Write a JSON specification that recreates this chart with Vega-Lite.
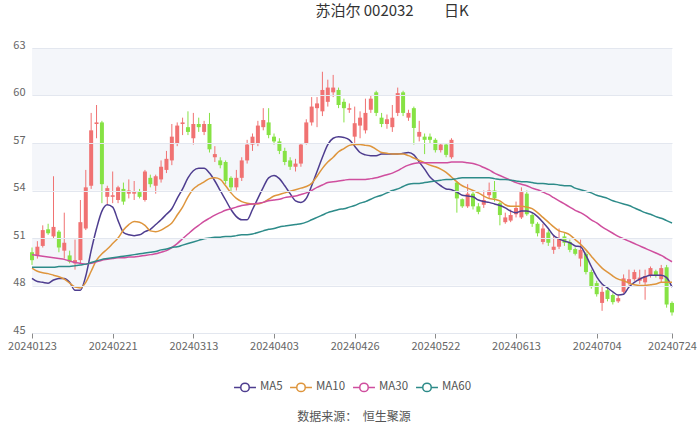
{
  "$schema": "https://vega.github.io/schema/vega-lite/v6.json",
  "autosize": "none",
  "width": 640,
  "height": 285,
  "padding": {"left": 32, "top": 48, "right": 28, "bottom": 93},
  "background": "white",
  "config": {"view": {"stroke": null}, "font": "Noto Sans CJK SC"},
  "title": {"text": "苏泊尔 002032\u00a0\u00a0\u00a0\u00a0\u00a0\u00a0\u00a0\u00a0\u00a0日K", "anchor": "middle", "dx": 40, "fontSize": 15, "fontWeight": "normal", "color": "#333333", "font": "Noto Sans CJK SC", "offset": 20},
  "data": {"values": [
{"date":"20240123","open":50.1,"close":49.6,"high":50.4,"low":49.3,"MA5":48.45,"MA10":49.1,"MA30":49.95,"MA60":49.15},
{"date":"20240124","open":49.9,"close":50.45,"high":50.8,"low":49.7,"MA5":48.25,"MA10":48.9,"MA30":49.9,"MA60":49.15},
{"date":"20240125","open":50.5,"close":51.5,"high":51.8,"low":50.4,"MA5":48.2,"MA10":48.8,"MA30":49.85,"MA60":49.15},
{"date":"20240126","open":51.55,"close":51.3,"high":51.9,"low":51.2,"MA5":48.15,"MA10":48.75,"MA30":49.8,"MA60":49.15},
{"date":"20240129","open":51.1,"close":51.7,"high":54.9,"low":51.0,"MA5":48.35,"MA10":48.65,"MA30":49.75,"MA60":49.15},
{"date":"20240130","open":51.4,"close":50.4,"high":51.5,"low":50.1,"MA5":48.45,"MA10":48.55,"MA30":49.7,"MA60":49.2},
{"date":"20240131","open":50.2,"close":50.7,"high":52.6,"low":49.7,"MA5":48.45,"MA10":48.4,"MA30":49.65,"MA60":49.2},
{"date":"20240201","open":49.9,"close":49.5,"high":50.2,"low":49.4,"MA5":48.2,"MA10":48.15,"MA30":49.55,"MA60":49.2},
{"date":"20240202","open":49.4,"close":49.6,"high":50.9,"low":49.0,"MA5":47.7,"MA10":47.9,"MA30":49.45,"MA60":49.25},
{"date":"20240205","open":49.6,"close":52.0,"high":53.4,"low":49.4,"MA5":47.7,"MA10":47.85,"MA30":49.4,"MA60":49.3},
{"date":"20240206","open":51.6,"close":54.2,"high":55.3,"low":51.5,"MA5":48.6,"MA10":48.2,"MA30":49.35,"MA60":49.35},
{"date":"20240207","open":54.3,"close":57.8,"high":58.9,"low":54.1,"MA5":50.2,"MA10":48.9,"MA30":49.4,"MA60":49.45},
{"date":"20240208","open":58.2,"close":58.3,"high":59.4,"low":57.3,"MA5":51.6,"MA10":49.6,"MA30":49.5,"MA60":49.55},
{"date":"20240219","open":58.3,"close":54.4,"high":58.4,"low":53.2,"MA5":52.7,"MA10":50.0,"MA30":49.6,"MA60":49.65},
{"date":"20240220","open":53.6,"close":54.15,"high":54.3,"low":53.1,"MA5":53.1,"MA10":50.3,"MA30":49.65,"MA60":49.7},
{"date":"20240221","open":53.6,"close":53.7,"high":55.2,"low":53.2,"MA5":52.95,"MA10":50.65,"MA30":49.7,"MA60":49.75},
{"date":"20240222","open":53.4,"close":54.2,"high":54.3,"low":53.2,"MA5":52.1,"MA10":51.0,"MA30":49.75,"MA60":49.8},
{"date":"20240223","open":54.1,"close":53.3,"high":54.5,"low":53.1,"MA5":51.35,"MA10":51.5,"MA30":49.75,"MA60":49.85},
{"date":"20240226","open":53.8,"close":54.0,"high":54.7,"low":53.5,"MA5":51.2,"MA10":51.85,"MA30":49.8,"MA60":49.9},
{"date":"20240227","open":53.8,"close":53.9,"high":54.6,"low":53.4,"MA5":51.15,"MA10":52.05,"MA30":49.8,"MA60":49.95},
{"date":"20240228","open":53.9,"close":53.6,"high":54.1,"low":53.5,"MA5":51.2,"MA10":52.0,"MA30":49.85,"MA60":50.0},
{"date":"20240229","open":53.4,"close":55.2,"high":55.3,"low":53.3,"MA5":51.4,"MA10":51.8,"MA30":49.9,"MA60":50.05},
{"date":"20240301","open":54.8,"close":54.4,"high":55.0,"low":54.2,"MA5":51.55,"MA10":51.45,"MA30":49.95,"MA60":50.1},
{"date":"20240304","open":54.3,"close":54.9,"high":55.0,"low":53.8,"MA5":51.85,"MA10":51.4,"MA30":50.0,"MA60":50.15},
{"date":"20240305","open":54.7,"close":55.5,"high":55.9,"low":54.5,"MA5":52.15,"MA10":51.5,"MA30":50.1,"MA60":50.25},
{"date":"20240306","open":55.3,"close":56.0,"high":56.5,"low":55.1,"MA5":52.5,"MA10":51.7,"MA30":50.2,"MA60":50.3},
{"date":"20240307","open":55.9,"close":57.4,"high":58.2,"low":55.6,"MA5":52.85,"MA10":51.95,"MA30":50.4,"MA60":50.4},
{"date":"20240308","open":57.0,"close":58.1,"high":58.3,"low":56.8,"MA5":53.5,"MA10":52.45,"MA30":50.65,"MA60":50.45},
{"date":"20240311","open":58.2,"close":58.3,"high":58.6,"low":57.5,"MA5":54.1,"MA10":52.95,"MA30":50.95,"MA60":50.55},
{"date":"20240312","open":58.0,"close":57.7,"high":59.0,"low":57.5,"MA5":54.8,"MA10":53.6,"MA30":51.25,"MA60":50.65},
{"date":"20240313","open":57.3,"close":58.2,"high":58.9,"low":56.9,"MA5":55.25,"MA10":54.1,"MA30":51.55,"MA60":50.75},
{"date":"20240314","open":58.2,"close":58.0,"high":58.6,"low":57.7,"MA5":55.4,"MA10":54.35,"MA30":51.8,"MA60":50.85},
{"date":"20240315","open":57.7,"close":58.2,"high":58.4,"low":57.5,"MA5":55.4,"MA10":54.55,"MA30":52.05,"MA60":50.95},
{"date":"20240318","open":58.2,"close":56.6,"high":58.9,"low":56.4,"MA5":55.1,"MA10":54.75,"MA30":52.25,"MA60":51.0},
{"date":"20240319","open":56.1,"close":56.3,"high":56.8,"low":55.8,"MA5":54.6,"MA10":54.8,"MA30":52.45,"MA60":51.05},
{"date":"20240320","open":55.9,"close":55.6,"high":56.1,"low":55.4,"MA5":54.0,"MA10":54.7,"MA30":52.6,"MA60":51.05},
{"date":"20240321","open":55.8,"close":54.6,"high":55.9,"low":54.4,"MA5":53.4,"MA10":54.3,"MA30":52.75,"MA60":51.1},
{"date":"20240322","open":54.8,"close":54.2,"high":54.9,"low":53.9,"MA5":52.8,"MA10":53.85,"MA30":52.85,"MA60":51.1},
{"date":"20240325","open":54.2,"close":54.8,"high":55.3,"low":54.0,"MA5":52.35,"MA10":53.5,"MA30":52.95,"MA60":51.15},
{"date":"20240326","open":54.8,"close":55.9,"high":56.1,"low":54.6,"MA5":52.15,"MA10":53.3,"MA30":53.05,"MA60":51.2},
{"date":"20240327","open":55.9,"close":56.9,"high":57.2,"low":55.7,"MA5":52.15,"MA10":53.2,"MA30":53.1,"MA60":51.2},
{"date":"20240328","open":56.9,"close":57.4,"high":57.6,"low":56.5,"MA5":52.8,"MA10":53.15,"MA30":53.15,"MA60":51.25},
{"date":"20240329","open":57.0,"close":58.1,"high":58.4,"low":56.8,"MA5":53.5,"MA10":53.15,"MA30":53.2,"MA60":51.35},
{"date":"20240401","open":58.0,"close":58.45,"high":59.2,"low":57.8,"MA5":54.2,"MA10":53.25,"MA30":53.25,"MA60":51.45},
{"date":"20240402","open":58.3,"close":57.5,"high":59.2,"low":57.3,"MA5":54.8,"MA10":53.45,"MA30":53.35,"MA60":51.55},
{"date":"20240403","open":57.4,"close":57.1,"high":57.6,"low":56.9,"MA5":54.95,"MA10":53.65,"MA30":53.4,"MA60":51.6},
{"date":"20240408","open":57.1,"close":56.5,"high":57.3,"low":56.3,"MA5":54.75,"MA10":53.75,"MA30":53.45,"MA60":51.7},
{"date":"20240409","open":56.5,"close":55.8,"high":56.7,"low":55.6,"MA5":54.3,"MA10":53.85,"MA30":53.55,"MA60":51.75},
{"date":"20240410","open":55.9,"close":55.5,"high":56.1,"low":55.3,"MA5":53.8,"MA10":53.95,"MA30":53.6,"MA60":51.8},
{"date":"20240411","open":55.5,"close":55.7,"high":56.0,"low":55.2,"MA5":53.35,"MA10":54.05,"MA30":53.65,"MA60":51.85},
{"date":"20240412","open":55.7,"close":56.9,"high":57.0,"low":55.5,"MA5":53.25,"MA10":54.15,"MA30":53.75,"MA60":51.9},
{"date":"20240415","open":57.0,"close":58.3,"high":58.5,"low":56.9,"MA5":53.5,"MA10":54.25,"MA30":53.85,"MA60":52.0},
{"date":"20240416","open":58.3,"close":59.3,"high":59.9,"low":58.1,"MA5":54.3,"MA10":54.45,"MA30":54.0,"MA60":52.15},
{"date":"20240417","open":59.2,"close":59.5,"high":59.9,"low":58.0,"MA5":55.2,"MA10":54.9,"MA30":54.2,"MA60":52.3},
{"date":"20240418","open":59.0,"close":60.35,"high":61.5,"low":58.7,"MA5":56.1,"MA10":55.4,"MA30":54.35,"MA60":52.45},
{"date":"20240419","open":59.6,"close":60.5,"high":61.0,"low":59.3,"MA5":56.9,"MA10":55.8,"MA30":54.5,"MA60":52.6},
{"date":"20240422","open":60.2,"close":60.5,"high":61.3,"low":59.9,"MA5":57.3,"MA10":56.1,"MA30":54.55,"MA60":52.7},
{"date":"20240423","open":60.35,"close":59.4,"high":60.5,"low":59.2,"MA5":57.4,"MA10":56.45,"MA30":54.6,"MA60":52.8},
{"date":"20240424","open":59.6,"close":59.2,"high":59.8,"low":58.3,"MA5":57.35,"MA10":56.65,"MA30":54.65,"MA60":52.85},
{"date":"20240425","open":59.1,"close":59.2,"high":59.5,"low":58.9,"MA5":57.2,"MA10":56.85,"MA30":54.7,"MA60":52.95},
{"date":"20240426","open":57.4,"close":58.25,"high":59.3,"low":57.0,"MA5":56.8,"MA10":56.9,"MA30":54.7,"MA60":53.05},
{"date":"20240429","open":58.1,"close":58.6,"high":59.0,"low":57.3,"MA5":56.4,"MA10":56.9,"MA30":54.7,"MA60":53.2},
{"date":"20240430","open":57.8,"close":58.9,"high":59.8,"low":57.6,"MA5":56.25,"MA10":56.85,"MA30":54.7,"MA60":53.3},
{"date":"20240506","open":59.1,"close":59.8,"high":60.0,"low":58.9,"MA5":56.2,"MA10":56.8,"MA30":54.75,"MA60":53.45},
{"date":"20240507","open":60.2,"close":58.9,"high":60.3,"low":58.7,"MA5":56.2,"MA10":56.6,"MA30":54.8,"MA60":53.6},
{"date":"20240508","open":58.6,"close":58.2,"high":58.9,"low":58.0,"MA5":56.3,"MA10":56.4,"MA30":54.9,"MA60":53.7},
{"date":"20240509","open":58.2,"close":58.5,"high":58.8,"low":57.9,"MA5":56.3,"MA10":56.35,"MA30":55.0,"MA60":53.85},
{"date":"20240510","open":58.0,"close":58.6,"high":59.4,"low":57.7,"MA5":56.3,"MA10":56.3,"MA30":55.1,"MA60":54.0},
{"date":"20240513","open":58.9,"close":60.15,"high":60.5,"low":58.7,"MA5":56.3,"MA10":56.3,"MA30":55.25,"MA60":54.1},
{"date":"20240514","open":60.2,"close":58.9,"high":60.3,"low":58.7,"MA5":56.35,"MA10":56.3,"MA30":55.45,"MA60":54.25},
{"date":"20240515","open":58.6,"close":58.9,"high":59.1,"low":58.4,"MA5":56.4,"MA10":56.2,"MA30":55.6,"MA60":54.4},
{"date":"20240516","open":59.2,"close":57.95,"high":59.3,"low":56.9,"MA5":56.25,"MA10":56.05,"MA30":55.7,"MA60":54.45},
{"date":"20240517","open":57.4,"close":57.7,"high":58.4,"low":57.1,"MA5":55.8,"MA10":55.9,"MA30":55.75,"MA60":54.45},
{"date":"20240520","open":57.4,"close":57.2,"high":57.6,"low":56.3,"MA5":55.35,"MA10":55.75,"MA30":55.75,"MA60":54.5},
{"date":"20240521","open":57.4,"close":57.2,"high":57.6,"low":57.0,"MA5":54.85,"MA10":55.6,"MA30":55.75,"MA60":54.55},
{"date":"20240522","open":57.2,"close":56.55,"high":57.3,"low":56.4,"MA5":54.55,"MA10":55.5,"MA30":55.75,"MA60":54.6},
{"date":"20240523","open":56.55,"close":56.9,"high":57.0,"low":56.4,"MA5":54.3,"MA10":55.35,"MA30":55.75,"MA60":54.65},
{"date":"20240524","open":56.9,"close":56.25,"high":57.0,"low":56.1,"MA5":54.1,"MA10":55.15,"MA30":55.75,"MA60":54.7},
{"date":"20240527","open":56.1,"close":57.2,"high":57.3,"low":56.0,"MA5":54.05,"MA10":54.85,"MA30":55.8,"MA60":54.7},
{"date":"20240528","open":54.5,"close":53.5,"high":54.6,"low":52.6,"MA5":53.9,"MA10":54.55,"MA30":55.8,"MA60":54.75},
{"date":"20240529","open":53.45,"close":53.0,"high":53.5,"low":52.9,"MA5":53.7,"MA10":54.3,"MA30":55.8,"MA60":54.8},
{"date":"20240530","open":53.0,"close":53.8,"high":54.4,"low":52.9,"MA5":53.65,"MA10":54.15,"MA30":55.75,"MA60":54.8},
{"date":"20240531","open":53.8,"close":53.0,"high":54.0,"low":52.8,"MA5":53.6,"MA10":54.0,"MA30":55.7,"MA60":54.8},
{"date":"20240603","open":53.0,"close":52.65,"high":53.2,"low":52.5,"MA5":53.4,"MA10":53.85,"MA30":55.6,"MA60":54.8},
{"date":"20240604","open":53.1,"close":53.4,"high":54.0,"low":52.9,"MA5":53.3,"MA10":53.65,"MA30":55.45,"MA60":54.8},
{"date":"20240605","open":53.7,"close":54.0,"high":54.5,"low":53.5,"MA5":53.25,"MA10":53.5,"MA30":55.3,"MA60":54.8},
{"date":"20240606","open":54.0,"close":53.5,"high":54.6,"low":53.3,"MA5":53.15,"MA10":53.45,"MA30":55.1,"MA60":54.75},
{"date":"20240607","open":53.2,"close":52.45,"high":53.3,"low":51.8,"MA5":53.05,"MA10":53.35,"MA30":54.95,"MA60":54.7},
{"date":"20240611","open":52.0,"close":52.3,"high":52.6,"low":51.9,"MA5":52.9,"MA10":53.1,"MA30":54.8,"MA60":54.7},
{"date":"20240612","open":52.1,"close":52.45,"high":52.8,"low":52.0,"MA5":52.7,"MA10":53.0,"MA30":54.65,"MA60":54.65},
{"date":"20240613","open":52.5,"close":52.9,"high":53.3,"low":52.3,"MA5":52.6,"MA10":53.0,"MA30":54.5,"MA60":54.6},
{"date":"20240614","open":52.3,"close":53.9,"high":54.2,"low":52.2,"MA5":52.7,"MA10":53.0,"MA30":54.4,"MA60":54.55},
{"date":"20240617","open":53.8,"close":52.5,"high":54.0,"low":52.4,"MA5":52.7,"MA10":52.95,"MA30":54.3,"MA60":54.55},
{"date":"20240618","open":52.45,"close":51.9,"high":52.6,"low":51.7,"MA5":52.6,"MA10":52.85,"MA30":54.15,"MA60":54.5},
{"date":"20240619","open":51.9,"close":51.3,"high":52.0,"low":51.1,"MA5":52.35,"MA10":52.6,"MA30":54.05,"MA60":54.45},
{"date":"20240620","open":50.75,"close":51.6,"high":51.9,"low":50.6,"MA5":52.0,"MA10":52.3,"MA30":53.9,"MA60":54.45},
{"date":"20240621","open":51.35,"close":50.7,"high":51.5,"low":50.5,"MA5":51.6,"MA10":52.0,"MA30":53.75,"MA60":54.4},
{"date":"20240624","open":50.25,"close":50.45,"high":51.2,"low":50.0,"MA5":51.15,"MA10":51.7,"MA30":53.55,"MA60":54.4},
{"date":"20240625","open":50.45,"close":51.0,"high":51.6,"low":50.3,"MA5":50.95,"MA10":51.45,"MA30":53.35,"MA60":54.35},
{"date":"20240626","open":51.1,"close":50.7,"high":51.3,"low":50.5,"MA5":50.8,"MA10":51.35,"MA30":53.15,"MA60":54.3},
{"date":"20240627","open":50.75,"close":50.25,"high":50.9,"low":50.1,"MA5":50.7,"MA10":51.2,"MA30":52.95,"MA60":54.3},
{"date":"20240628","open":50.3,"close":50.0,"high":50.4,"low":49.9,"MA5":50.5,"MA10":50.9,"MA30":52.75,"MA60":54.15},
{"date":"20240701","open":49.7,"close":50.25,"high":50.9,"low":49.2,"MA5":50.45,"MA10":50.6,"MA30":52.6,"MA60":54.05},
{"date":"20240702","open":50.0,"close":48.85,"high":50.1,"low":48.7,"MA5":49.9,"MA10":50.25,"MA30":52.4,"MA60":53.95},
{"date":"20240703","open":48.85,"close":47.9,"high":49.0,"low":47.8,"MA5":49.2,"MA10":49.85,"MA30":52.15,"MA60":53.85},
{"date":"20240704","open":48.15,"close":47.45,"high":48.3,"low":47.3,"MA5":48.55,"MA10":49.45,"MA30":51.95,"MA60":53.7},
{"date":"20240705","open":46.9,"close":47.6,"high":48.0,"low":46.4,"MA5":48.1,"MA10":49.1,"MA30":51.7,"MA60":53.6},
{"date":"20240708","open":47.7,"close":47.15,"high":47.9,"low":47.0,"MA5":47.85,"MA10":48.85,"MA30":51.5,"MA60":53.5},
{"date":"20240709","open":47.4,"close":46.95,"high":47.5,"low":46.8,"MA5":47.6,"MA10":48.6,"MA30":51.3,"MA60":53.35},
{"date":"20240710","open":47.0,"close":47.2,"high":47.4,"low":46.9,"MA5":47.4,"MA10":48.4,"MA30":51.1,"MA60":53.25},
{"date":"20240711","open":47.6,"close":48.45,"high":48.7,"low":47.5,"MA5":47.45,"MA10":48.3,"MA30":50.95,"MA60":53.15},
{"date":"20240712","open":48.15,"close":48.4,"high":49.0,"low":48.0,"MA5":47.9,"MA10":48.15,"MA30":50.8,"MA60":53.05},
{"date":"20240715","open":48.4,"close":48.85,"high":49.0,"low":48.3,"MA5":48.2,"MA10":48.05,"MA30":50.65,"MA60":52.9},
{"date":"20240716","open":48.3,"close":48.5,"high":49.0,"low":48.1,"MA5":48.4,"MA10":48.0,"MA30":50.5,"MA60":52.75},
{"date":"20240717","open":48.2,"close":48.6,"high":49.0,"low":47.1,"MA5":48.55,"MA10":48.0,"MA30":50.35,"MA60":52.6},
{"date":"20240718","open":48.6,"close":49.1,"high":49.2,"low":48.5,"MA5":48.65,"MA10":48.05,"MA30":50.2,"MA60":52.5},
{"date":"20240719","open":48.9,"close":48.6,"high":49.0,"low":48.5,"MA5":48.65,"MA10":48.1,"MA30":50.05,"MA60":52.35},
{"date":"20240722","open":48.4,"close":49.1,"high":49.3,"low":48.2,"MA5":48.65,"MA10":48.2,"MA30":49.9,"MA60":52.25},
{"date":"20240723","open":49.15,"close":46.8,"high":49.3,"low":46.6,"MA5":48.5,"MA10":48.2,"MA30":49.7,"MA60":52.1},
{"date":"20240724","open":46.9,"close":46.3,"high":47.0,"low":46.1,"MA5":47.9,"MA10":48.2,"MA30":49.5,"MA60":51.95}
  ]},
  "layer": [
    {
      "data": {"values": [{"lo": 60, "hi": 63}, {"lo": 54, "hi": 57}, {"lo": 48, "hi": 51}]},
      "mark": {"type": "rect", "color": "#f4f6fa"},
      "encoding": {
        "y": {"field": "lo", "type": "quantitative", "title": null, "scale": {"domain": [45, 63], "nice": false, "zero": false},
          "axis": {"values": [45, 48, 51, 54, 57, 60, 63], "title": null, "domain": false, "ticks": false, "labelFontSize": 11, "labelColor": "#666666",
            "gridColor": "#e3e7ef", "grid": true, "labelPadding": 7, "labelOffset": -3, "zindex": 1}},
        "y2": {"field": "hi"}
      }
    },
    {
      "mark": {"type": "rule", "strokeWidth": 1},
      "encoding": {
        "x": {"field": "date", "type": "ordinal", "title": null, "scale": {"type": "point", "padding": 0},
          "axis": {"values": ["20240123","20240221","20240313","20240403","20240426","20240522","20240613","20240704","20240724"],
            "labelAngle": 0, "labelFontSize": 11, "labelColor": "#666666", "domainColor": "#8a8a8a", "tickColor": "#8a8a8a", "tickSize": 5,
            "grid": false, "title": null, "labelOverlap": false, "labelFlush": false, "labelPadding": 2}},
        "y": {"field": "low", "type": "quantitative", "title": null},
        "y2": {"field": "high"},
        "color": {"condition": {"test": "datum.close >= datum.open", "value": "#f07272"}, "value": "#86e244"}
      }
    },
    {
      "mark": {"type": "rule", "strokeWidth": 4, "strokeCap": "butt"},
      "encoding": {
        "x": {"field": "date", "type": "ordinal", "title": null},
        "y": {"field": "open", "type": "quantitative", "title": null},
        "y2": {"field": "close"},
        "color": {"condition": {"test": "datum.close >= datum.open", "value": "#f07272"}, "value": "#86e244"}
      }
    },
    {
      "transform": [{"fold": ["MA5", "MA10", "MA30", "MA60"], "as": ["series", "value"]}],
      "mark": {"type": "line", "interpolate": "monotone", "strokeWidth": 1.5},
      "encoding": {
        "x": {"field": "date", "type": "ordinal", "title": null},
        "y": {"field": "value", "type": "quantitative", "title": null},
        "color": {"field": "series", "type": "nominal",
          "scale": {"domain": ["MA5", "MA10", "MA30", "MA60"], "range": ["#4e3d8f", "#de953c", "#cf4e9e", "#2d8b89"]},
          "legend": {"orient": "none", "legendX": 205, "legendY": 331, "direction": "horizontal",
            "title": "数据来源：\u00a0\u00a0恒生聚源", "titleOrient": "bottom", "titleAnchor": "middle", "titleAlign": "center",
            "titleFontSize": 12, "titleFontWeight": "normal", "titleColor": "#555555", "titlePadding": 17,
            "symbolType": "M-1.55,0L-0.6,0M0.6,0L1.55,0M0.6,0A0.6,0.6,0,1,1,-0.6,0A0.6,0.6,0,1,1,0.6,0",
            "symbolSize": 200, "symbolStrokeWidth": 1.5, "symbolFillColor": "white",
            "labelFontSize": 11.5, "labelColor": "#555555", "labelOffset": 7, "columnPadding": 4}}
      }
    }
  ]
}
